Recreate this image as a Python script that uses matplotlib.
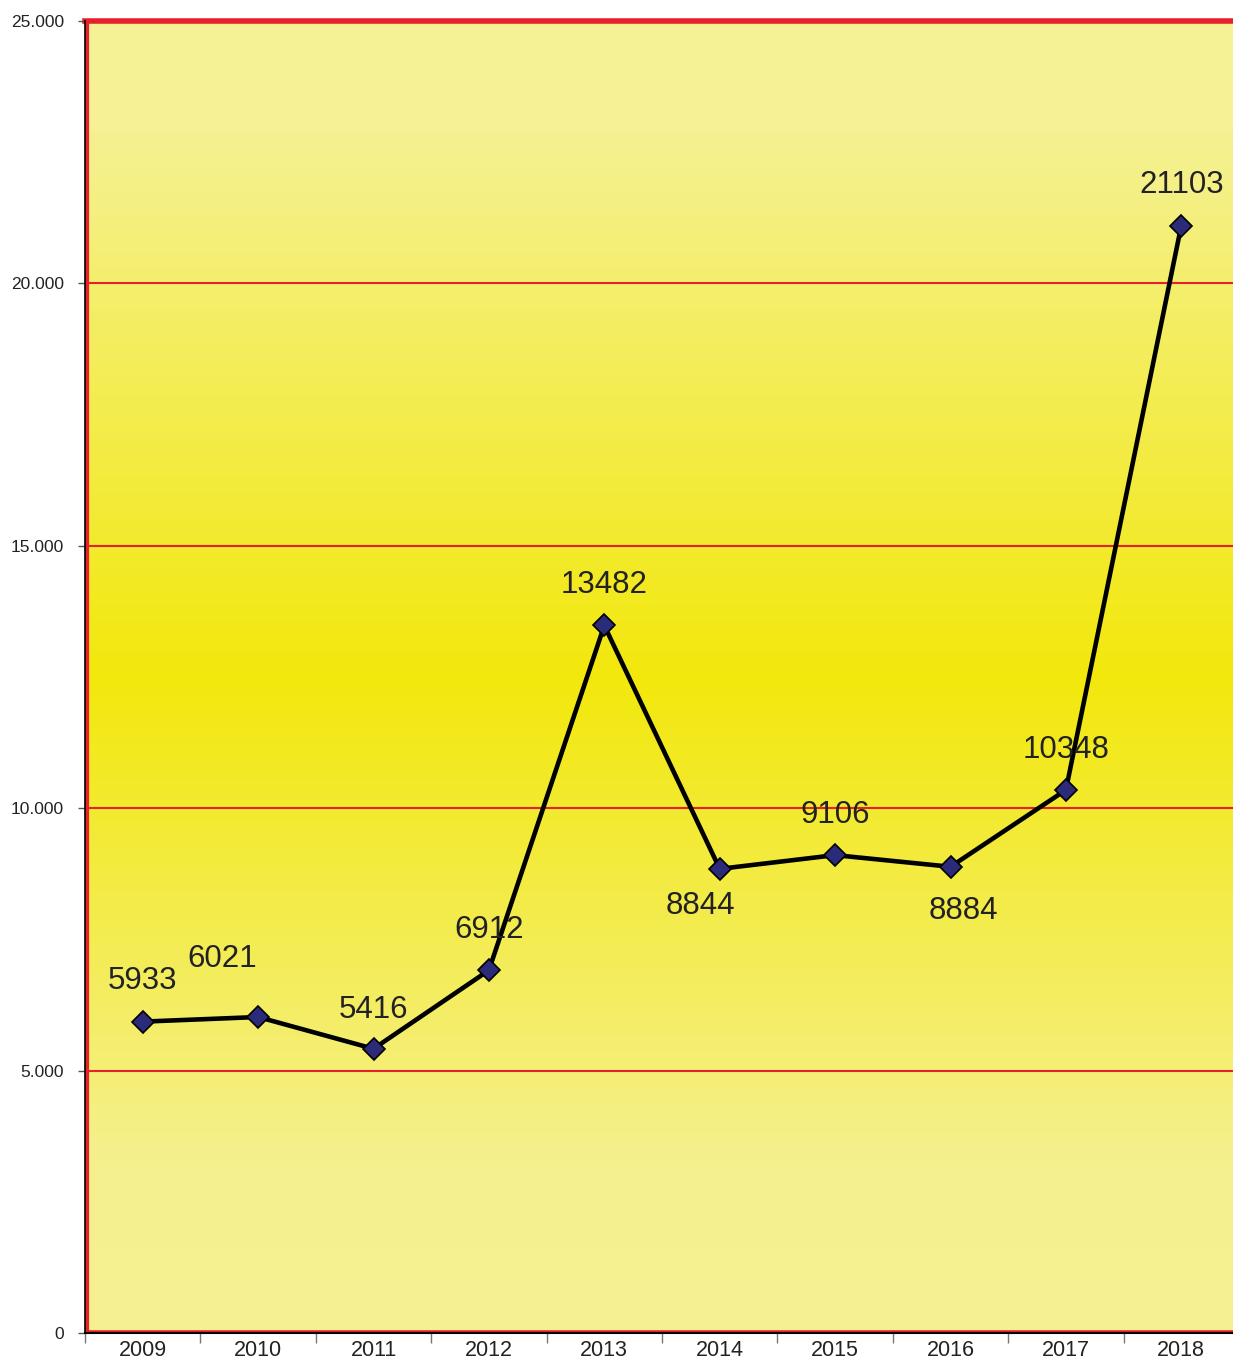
import matplotlib
matplotlib.use("Agg")
import matplotlib.pyplot as plt
import numpy as np
from matplotlib.colors import LinearSegmentedColormap

plt.rcParams["font.family"] = ["Liberation Sans", "DejaVu Sans"]

years = ["2009", "2010", "2011", "2012", "2013", "2014", "2015", "2016", "2017", "2018"]
values = [5933, 6021, 5416, 6912, 13482, 8844, 9106, 8884, 10348, 21103]
label_offsets = [(0, 29), (-26, 42), (0, 28), (0, 29), (0, 29), (-14, -27), (0, 29), (9, -32), (0, 29), (0, 29)]
ytick_vals = [0, 5000, 10000, 15000, 20000, 25000]
ytick_labels = ["0", "5.000", "10.000", "15.000", "20.000", "25.000"]

W, H = 1233, 1360
fig = plt.figure(figsize=(W / 100, H / 100), dpi=100)
left = 85 / W
right = 1239 / W
bottom = 1 - 1333 / H
top = 1 - 21 / H
ax = fig.add_axes([left, bottom, right - left, top - bottom])

x = np.arange(len(years))

# gradient background
cmap = LinearSegmentedColormap.from_list(
    "yel", [(0.0, "#F5F092"), (0.13, "#F5F08E"), (0.5, "#F2E80C"), (0.92, "#F5F194"), (1.0, "#F6F296")])
grad = np.linspace(0, 1, 256).reshape(-1, 1)
ax.imshow(grad, cmap=cmap, aspect="auto", extent=(-0.5, len(years) - 0.5, 0, 25000),
          origin="lower", zorder=0, vmin=0, vmax=1)
ax.set_xlim(-0.5, len(years) - 0.5)
ax.set_ylim(0, 25000)

for v in ytick_vals[1:-1]:
    ax.axhline(v, color="#E8202A", lw=1.5, zorder=1)
ax.axhline(25000, color="#E8202A", lw=4, zorder=1, clip_on=False)
ax.axhline(0, color="#E8202A", lw=4, zorder=1)
ax.axvline(-0.48, color="#E8202A", lw=3, zorder=1)

ax.plot(x, values, color="black", lw=3.3, zorder=3)
ax.plot(x, values, linestyle="none", marker="D", markersize=11,
        markerfacecolor="#2B2B7A", markeredgecolor="black", markeredgewidth=1.2, zorder=4)

for xi, v, off in zip(x, values, label_offsets):
    ax.annotate(str(v), (xi, v), xytext=off, textcoords="offset points",
                ha="center", va="center", fontsize=22.5, color="#222222", zorder=5)

for s in ["top", "right"]:
    ax.spines[s].set_visible(False)
ax.spines["left"].set_color("black")
ax.spines["left"].set_linewidth(1.2)
ax.spines["bottom"].set_color("black")
ax.spines["bottom"].set_linewidth(1.5)

ax.set_yticks(ytick_vals)
ax.set_yticklabels(ytick_labels, fontsize=12.5, color="#222222")
ax.tick_params(axis="y", length=5, width=1, color="#555555", pad=10)

ax.set_xticks(x)
ax.set_xticklabels(years, fontsize=15.5, color="#222222")
ax.tick_params(axis="x", length=0, pad=5)
ax.set_xticks(np.arange(-0.5, len(years), 1.0), minor=True)
ax.tick_params(axis="x", which="minor", length=7, width=1, color="#777777")

fig.savefig("out.png", dpi=100)
